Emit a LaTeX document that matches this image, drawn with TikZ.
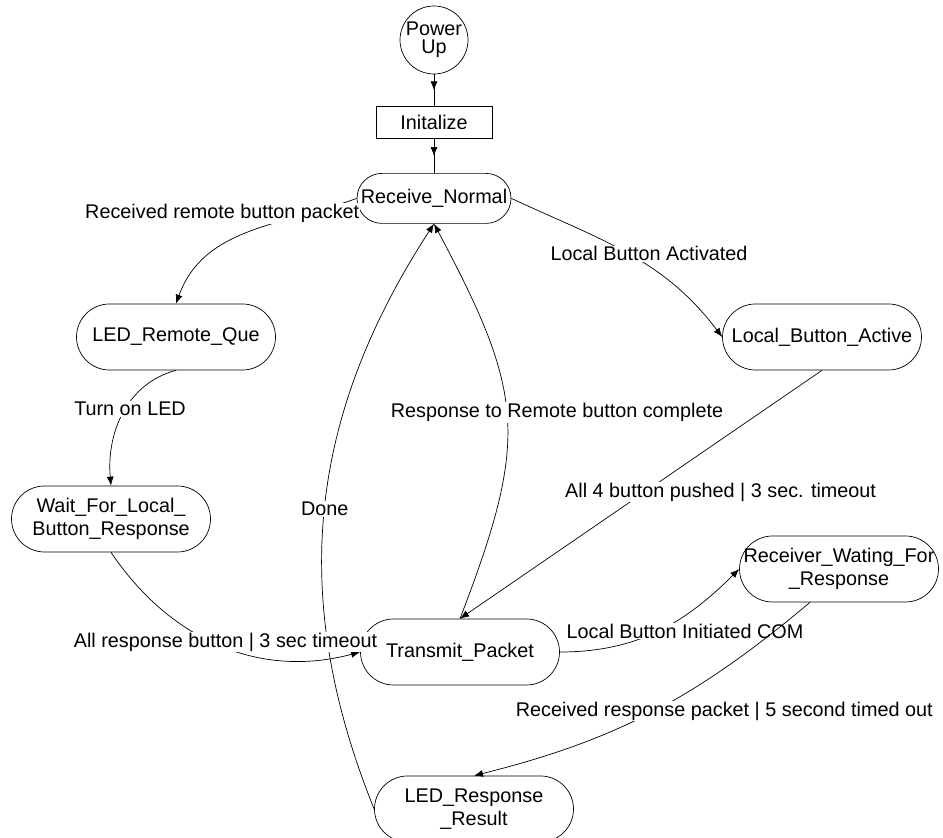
\documentclass[tikz,border=0pt]{standalone}
\usepackage{fontspec}
\setmainfont{Liberation Sans}
\usetikzlibrary{positioning, arrows.meta, decorations.markings}

\begin{document}
\begin{tikzpicture}[
    x=1pt, y=1pt,
    ->,
    >={Latex[length=9pt,width=7pt]},
    line width=0.7pt,
    font=\fontsize{19.8}{23}\selectfont,
    state/.style={rectangle, draw, rounded corners=33pt, minimum width=199pt, minimum height=66pt, inner sep=0pt, align=center},
    powerup/.style={circle, draw, minimum size=68pt, inner sep=0pt, align=center, font=\fontsize{19.8}{18}\selectfont},
    task/.style={rectangle, draw, minimum width=116pt, minimum height=32pt, inner sep=0pt},
    lbl/.style={fill=white, inner sep=1pt},
    midarrow/.style={-, postaction={decorate}, decoration={markings, mark=at position 0.5 with {\arrow{>}}}}
  ]

  \useasboundingbox (0,0) rectangle (943,838);

  % --- STATE POSITIONING ---
  \node[powerup] (pwr) at (434,798) {Power\\Up};
  \node[task, below=32pt of pwr] (init) {Initalize};
  \node[state, below=34pt of init, minimum width=154pt, minimum height=50pt, rounded corners=25pt] (rn) {Receive\_Normal};
  \node[state] (lrq) at (176,501) {LED\_Remote\_Que};
  \node[state] (lba) at (822,501) {Local\_Button\_Active};
  \node[state] (wf) at (111,319) {Wait\_For\_Local\_\\Button\_Response};
  \node[state] (tp) at (460,186) {Transmit\_Packet};
  \node[state] (rw) at (839,269) {Receiver\_Wating\_For\\\_Response};
  \node[state] (lrr) at (474,29) {LED\_Response\\\_Result};

  % --- TRANSITIONS ---

  % 1. Start up
  \path (pwr) edge[midarrow] (init);
  \path (init) edge[midarrow] (rn);

  % 2. Back to normal
  \path (lrr.west) edge[out=112, in=237] node[lbl, pos=0.5] {Done} (rn.south);
  \path (tp.north) edge[out=69, in=298, looseness=1.25] node[lbl, pos=0.5, xshift=50pt, yshift=5pt] {Response to Remote button complete} (rn.south);

  % 3. Remote button
  \path (rn.west) edge[out=200, in=70] node[lbl, at start, anchor=east, xshift=4pt, yshift=-15pt] {Received remote button packet} (lrq.north);
  \path (lrq.south) edge[out=195, in=95] node[lbl, pos=0.5, xshift=7pt, yshift=5pt] {Turn on LED} (wf.north);
  \path (wf.south) edge[out=-56, in=195] node[lbl, pos=0.5, xshift=6pt, yshift=3pt] {All response button | 3 sec timeout} (tp.west);

  % 4. Local button
  \path (rn.east) edge[out=-25, in=127] node[lbl, pos=0.5, xshift=21pt] {Local Button Activated} (lba.west);
  \path (lba.south) edge node[lbl, pos=0.49, xshift=76pt] {All 4 button pushed | 3 sec. timeout} (tp.north);
  \path (tp.east) edge[out=0, in=225] node[lbl, pos=0.5, xshift=27pt] {Local Button Initiated COM} (rw.west);
  \path (rw.-131) edge[out=220, in=14] node[lbl, pos=0.5, xshift=71pt] {Received response packet | 5 second timed out} (lrr.north);

\end{tikzpicture}
\end{document}
